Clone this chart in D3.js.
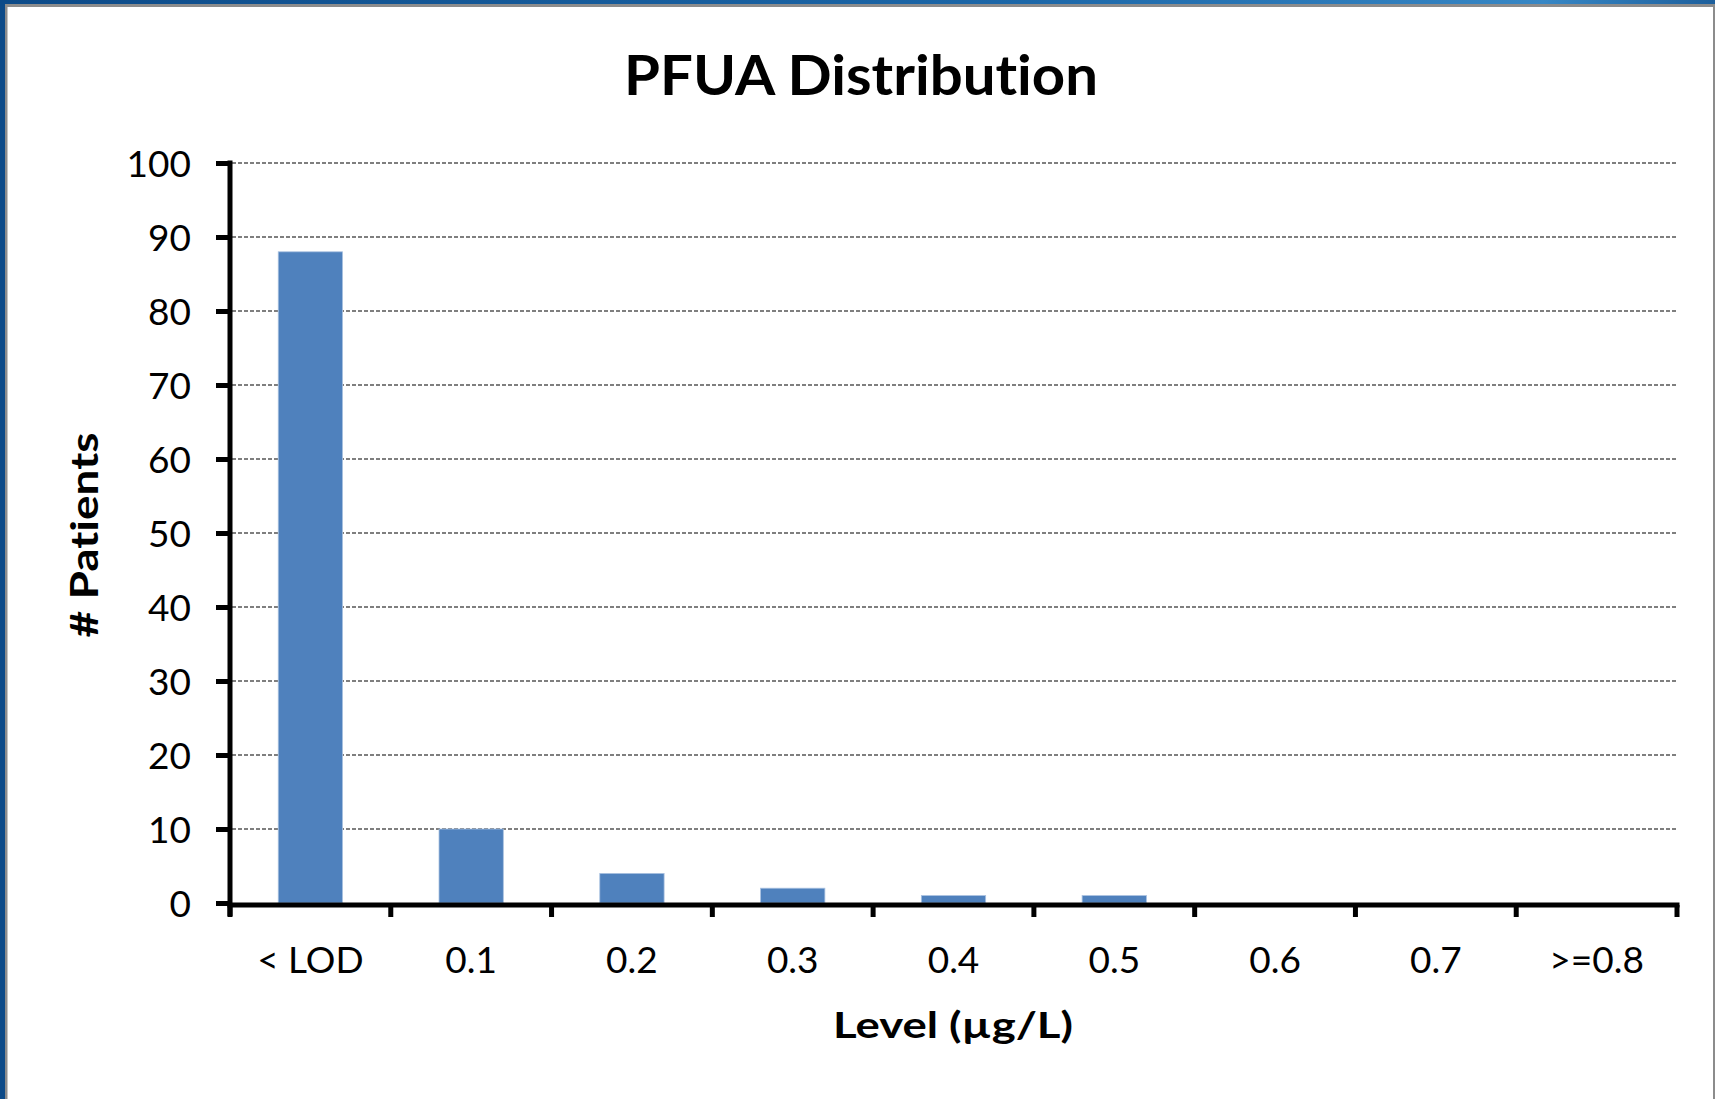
<!DOCTYPE html>
<html>
<head>
<meta charset="utf-8">
<script src="https://cdnjs.cloudflare.com/ajax/libs/d3/7.8.5/d3.min.js"></script>
<style>
  html, body { margin: 0; padding: 0; background: #ffffff; }
  svg { display: block; }
  text { font-family: Lato, "Open Sans", sans-serif; fill: #000; font-variant-ligatures: none; font-feature-settings: "liga" 0; }
</style>
</head>
<body>
<svg id="chart" width="1715" height="1099"></svg>
<script>
// Patient counts by PFUA level bin
const categories = ["< LOD", "0.1", "0.2", "0.3", "0.4", "0.5", "0.6", "0.7", ">=0.8"];
const patients = [88, 10, 4, 2, 1, 1, 0, 0, 0];
const yTicks = [0, 10, 20, 30, 40, 50, 60, 70, 80, 90, 100];

const chartTitle = "PFUA Distribution";
const xTitle = "Level (µg/L)";
const yTitle = "# Patients";

const W = 1715, H = 1099;
const plot = { left: 230, right: 1677, top: 163, bottom: 903 };

const svg = d3.select("#chart");

// window frame
const defs = svg.append("defs");
const grad = defs.append("linearGradient").attr("id", "topBar")
  .attr("x1", "0%").attr("x2", "100%").attr("y1", "0%").attr("y2", "0%");
grad.append("stop").attr("offset", "0%").attr("stop-color", "#0c4a88");
grad.append("stop").attr("offset", "60%").attr("stop-color", "#1c67a8");
grad.append("stop").attr("offset", "90%").attr("stop-color", "#3787c5");
grad.append("stop").attr("offset", "100%").attr("stop-color", "#1d5f9c");

svg.append("rect").attr("x", 0).attr("y", 0).attr("width", W).attr("height", H).attr("fill", "#ffffff");
svg.append("rect").attr("x", 0).attr("y", 0).attr("width", W).attr("height", 4).attr("fill", "url(#topBar)");
svg.append("rect").attr("x", 5).attr("y", 4).attr("width", W - 5).attr("height", 3).attr("fill", "#8c8c8c");
svg.append("rect").attr("x", 0).attr("y", 0).attr("width", 5).attr("height", H).attr("fill", "#0c4a88");
svg.append("rect").attr("x", 5).attr("y", 4).attr("width", 2.5).attr("height", H - 4).attr("fill", "#8c8c8c");
svg.append("rect").attr("x", W - 2).attr("y", 4).attr("width", 2).attr("height", H - 4).attr("fill", "#8c8c8c");

// scales
const x = d3.scaleBand()
  .domain(categories)
  .range([plot.left, plot.right])
  .paddingInner(0.6)
  .paddingOuter(0.3);

const y = d3.scaleLinear()
  .domain([0, 100])
  .range([plot.bottom, plot.top]);

// dashed gridlines
svg.append("g").attr("class", "grid")
  .selectAll("line")
  .data(yTicks.filter(v => v > 0))
  .join("line")
  .attr("x1", plot.left + 2)
  .attr("x2", plot.right)
  .attr("y1", d => y(d))
  .attr("y2", d => y(d))
  .attr("stroke", "#000")
  .attr("stroke-width", 1.2)
  .attr("stroke-dasharray", "4,2");

// bars
svg.append("g").attr("class", "bars")
  .selectAll("rect")
  .data(categories.map((c, i) => ({ c, v: patients[i] })))
  .join("rect")
  .attr("x", d => x(d.c))
  .attr("width", x.bandwidth())
  .attr("y", d => y(d.v))
  .attr("height", d => y(0) - y(d.v))
  .attr("fill", "#4f81bd")
  .attr("stroke", "#a9c1e0")
  .attr("stroke-width", d => d.v > 0 ? 0.8 : 0);

// y axis
const yAxis = svg.append("g")
  .attr("transform", `translate(${plot.left},0)`)
  .call(d3.axisLeft(y).tickValues(yTicks).tickSize(14).tickSizeOuter(0).tickPadding(25));
yAxis.select(".domain")
  .attr("d", `M0,${plot.top - 2.5}V${plot.bottom + 13}`)
  .attr("stroke", "#000").attr("stroke-width", 5);
yAxis.selectAll(".tick line").attr("stroke", "#000").attr("stroke-width", 5);
yAxis.selectAll(".tick text")
  .style("font-family", "Lato, 'Open Sans', sans-serif")
  .style("font-size", "37px")
  .attr("fill", "#000")
  .attr("dy", "0.36em");

// x axis
const x0 = plot.bottom + 2;
const xAxis = svg.append("g")
  .attr("transform", `translate(0,${x0})`)
  .call(d3.axisBottom(x).tickSize(0).tickSizeOuter(0));
xAxis.select(".domain")
  .attr("d", `M${plot.left - 2.5},0H${plot.right + 2.5}`)
  .attr("stroke", "#000").attr("stroke-width", 5);
xAxis.selectAll(".tick text")
  .style("font-family", "Lato, 'Open Sans', sans-serif")
  .style("font-size", "37px")
  .attr("fill", "#000")
  .attr("y", 68)
  .attr("dy", null);

// category boundary tick marks
const step = x.step();
const bounds = categories.map(c => x(c) - x.paddingOuter() * step).concat([plot.right]);
xAxis.append("g").selectAll("line")
  .data(bounds)
  .join("line")
  .attr("x1", d => d).attr("x2", d => d)
  .attr("y1", 0).attr("y2", 12)
  .attr("stroke", "#000").attr("stroke-width", 5);

// titles
svg.append("text")
  .attr("x", 861).attr("y", 95)
  .attr("text-anchor", "middle")
  .style("font-weight", 700).style("font-size", "55px")
  .attr("textLength", 474).attr("lengthAdjust", "spacingAndGlyphs")
  .text(chartTitle);

svg.append("text")
  .attr("x", 953).attr("y", 1038)
  .attr("text-anchor", "middle")
  .style("font-weight", 700).style("font-size", "37px")
  .attr("textLength", 240).attr("lengthAdjust", "spacingAndGlyphs")
  .text(xTitle);

svg.append("text")
  .attr("transform", "translate(98,535) rotate(-90)")
  .attr("text-anchor", "middle")
  .style("font-weight", 700).style("font-size", "38px")
  .attr("textLength", 205).attr("lengthAdjust", "spacingAndGlyphs")
  .text(yTitle);
</script>
</body>
</html>
